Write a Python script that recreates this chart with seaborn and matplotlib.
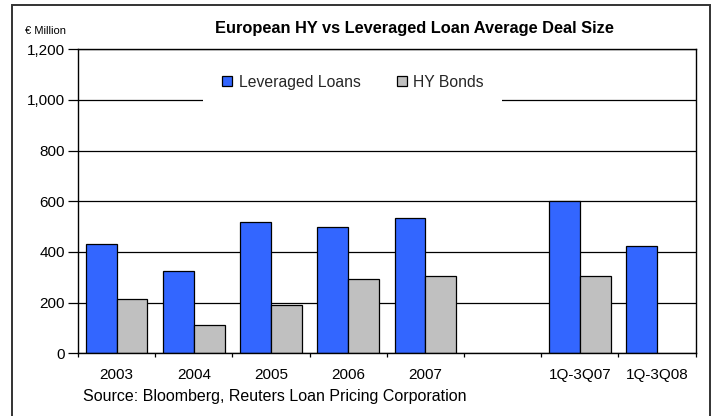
import numpy as np
import pandas as pd
import matplotlib
matplotlib.use("Agg")
import matplotlib.pyplot as plt
from matplotlib.patches import Rectangle
from matplotlib.ticker import FuncFormatter
import seaborn as sns

# Average deal size per period (EUR million); the blank slot separates full years from YTD
periods = ["2003", "2004", "2005", "2006", "2007", " ", "1Q-3Q07", "1Q-3Q08"]
leveraged_loans = [430, 325, 520, 500, 535, np.nan, 600, 425]
hy_bonds = [215, 110, 190, 295, 305, np.nan, 305, np.nan]
series_names = ["Leveraged Loans", "HY Bonds"]
series_colors = ["#3366FF", "#C0C0C0"]
y_ticks = [0, 200, 400, 600, 800, 1000, 1200]

df = pd.DataFrame({
    "period": periods * 2,
    "series": [series_names[0]] * len(periods) + [series_names[1]] * len(periods),
    "value": leveraged_loans + hy_bonds,
})

sns.set_theme(style="white")
plt.rcParams["font.family"] = ["Liberation Sans", "DejaVu Sans"]

W, H = 719, 416
fig = plt.figure(figsize=(W / 100, H / 100), dpi=100)
fig.patch.set_facecolor("white")
ax = fig.add_axes([78 / W, 1 - 353.3 / H, (695.7 - 78) / W, (353.3 - 49.3) / H])

sns.barplot(
    data=df, x="period", y="value", hue="series",
    order=periods, hue_order=series_names, palette=series_colors,
    width=0.8, saturation=1, edgecolor="black", linewidth=0.9,
    errorbar=None, ax=ax,
)

ax.set_xlim(-0.5, len(periods) - 0.5)
ax.set_ylim(y_ticks[0], y_ticks[-1])
ax.set_yticks(y_ticks)
ax.yaxis.set_major_formatter(FuncFormatter(lambda v, _: f"{int(v):,}"))
ax.set_xlabel("")
ax.set_ylabel("")

# category labels without marks; marks sit on the category boundaries
ax.set_xticks(range(len(periods)))
ax.set_xticklabels(periods)
ax.set_xticks(np.arange(-0.5, len(periods), 1.0), minor=True)
ax.tick_params(axis="x", which="major", length=0, pad=10.5, labelsize=11, colors="black")
ax.tick_params(axis="x", which="minor", bottom=True, length=3, width=0.9, direction="out", color="black")
ax.tick_params(axis="y", which="major", left=True, length=7, width=0.9, pad=2.2,
               direction="out", labelsize=11, colors="black")

ax.yaxis.grid(True, color="black", linewidth=0.9)
ax.set_axisbelow(True)
for s in ax.spines.values():
    s.set_color("black")
    s.set_linewidth(1.0)

handles, labels = ax.get_legend_handles_labels()
leg = ax.legend(
    handles, labels, loc="center", bbox_to_anchor=(0.445, 0.892), ncol=2,
    frameon=True, fancybox=False, facecolor="white", edgecolor="none", framealpha=1,
    fontsize=11.3, handlelength=0.65, handleheight=0.65, handletextpad=0.4,
    columnspacing=2.3, borderpad=1.2,
)

fig.text(414 / W, 1 - 28 / H, "European HY vs Leveraged Loan Average Deal Size",
         ha="center", va="center", fontsize=11.8, fontweight="bold", color="black")
fig.text(25 / W, 1 - 31 / H, "€ Million", ha="left", va="center", fontsize=8, color="black")
fig.text(83 / W, 1 - 397 / H, "Source: Bloomberg, Reuters Loan Pricing Corporation",
         ha="left", va="center", fontsize=11.5, color="black")

# outer frame around the whole exhibit
fig.patches.append(Rectangle((11.5 / W, -0.02), (710 - 11.5) / W, 1.02 - 5 / H,
                             transform=fig.transFigure, fill=False,
                             edgecolor="#333333", linewidth=1.4))

fig.savefig("out.png", dpi=100)
